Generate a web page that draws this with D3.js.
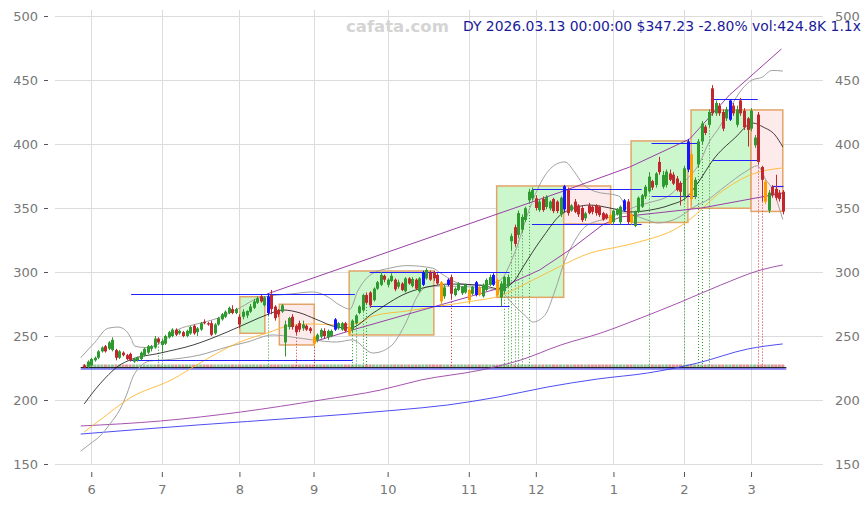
<!DOCTYPE html>
<html><head><meta charset="utf-8">
<script src="https://cdn.jsdelivr.net/npm/d3@7/dist/d3.min.js"></script>
<style>body{margin:0;background:#fff}svg{display:block}</style>
</head><body><svg id="c" width="868" height="506"></svg>
<script>
// ---------------- DATA ----------------
const monthTickIdx = [2,22,44,65,86,109,128,150,170,189];
const monthLabels  = ["6","7","8","9","10","11","12","1","2","3"];
const yTicks = [150,200,250,300,350,400,450,500];
const titleText = "DY 2026.03.13 00:00:00 $347.23 -2.80% vol:424.8K 1.1x";
const watermark = "cafata.com";

// daily candles [open, high, low, close]
const candles = [
[227,228,225,225.5],[226,231,225,230],[227,233,226,232],[231,234,230,233],[233,239,232,238],
[238,242,237,241],[242,243,237,238],[240,246,239,245],[239,249,238,247],[239,240,231,233],
[233,239,232,238],[237,238,234,235],[235,236,231,232],[236,237,230,231],[230,233,229,232],
[231,234,230,233],[232,238,231,237],[235,241,234,240],[237,243,236,242],[240,243,238,242],
[241,250,240,248],[248,249,244,245],[243,248,238,246],[244,251,243,250],[249,254,248,253],
[250,256,249,255],[255,256,250,251],[252,255,251,254],[253,254,249,250],[250,255,249,254],
[252,258,251,257],[258,259,251,252],[253,257,250,256],[255,261,254,260],[261,263,259,260],
[260,261,258,259],[260,262,250,251],[252,260,251,259],[259,265,258,264],[263,268,262,267],
[265,270,264,269],[268,273,267,272],[271,274,267,268],[268,272,267,271],[265,267,256,259],
[265,271,263,269],[266,270,264,269.5],[269,275,268,273],[272,279,271,277],[276,281,275,279.5],
[281,282,276,277],[274,281,273,280],[268,283,266,281],[282,286,267,271],[273,274,262,264],
[270,271,265,267],[269,275,268,274],[245,262,234,259],[257,265,255,264],[265,267,255,257],
[258,259,251,253],[260,262,253,255],[256,262,254,259],[258,259,254,255],[256,257,252,254],
[249.5,251,241.5,244],[247,252,245,251],[249.5,256,248,254.7],[254,256,248,250],[249,255,247,254],
[250,255,249,254],[255,264,254,263],[256,261,255,260],[255,261,254,260],[260,261,253,254],
[257,258,250,252],[255,263,253,262],[260,267,259,266],[268,274,267,273],[270,283,269,282],
[282,284,275,276],[284,285,272,274],[278,288,277,287],[287,293,286,292],[290,300,289,297.7],
[297,298,292,294],[290,295,288,294],[293,299,292,297],[294,295,285,286.5],[288.5,294,287,292],
[291,292,285,286],[285,296,284,295],[295,296,290,291],[289,296,288,294.5],[294,295,286,287],
[285,296,284,295],[290,301,289,299.5],[295,303,294,301.6],[299.5,301,293,294],[300,301,293,295],
[297.7,299,290,291],[292,293,273,277],[281,290,279,288],[290,295,289,294],[296,298,279,283],
[282,288,281,287],[286,292,285,291],[283.4,289,282,288.5],[284,291,283,290],[286,287,275,278],
[283,289,282,288.5],[282,293,281,292],[288,289,281,282],[281,291,280,290],[286,295,285,293.8],
[290,298,289,296],[290,299,289,297.7],[293.8,295,281,282],[280,293,273,291],[285,297,283,296],
[289,298,288,296],[324,330,317,328],[335,337,320,322],[329,348,327,346],[333,345,331,343],
[340.6,351,339,349.8],[356,365,354,362.7],[357.6,366,356,364],[357.6,360,348,350],[348.4,357,347,355],
[357,359,347,348.4],[350.8,360,349,358.6],[349.6,356,348,355],[357,358,346,347.6],[355,356,346,347.6],
[345,359,343,358],[349,368,347,367],[364,366,344,346],[348,353,347,352],[355,357,346,347],
[352,353,343,345],[350,352,339,340.6],[342,347,340,345.8],[352,354,345,346],[351,352,345,347],
[352,353,344,346],[351,352,343,344.5],[346,347,340,341],[345,346,341,342],[344.5,346,337,338],
[339,349,337,348],[345,350,344,349],[339,352,337,351],[348,357,347,356],[355,357,337,339],
[345,346,337,339],[336,348,335,347],[347,359,346,358],[351,361,350,360],[359,368,357,366.6],
[363,378,362,374.5],[371,372,364,366],[368,378,366,377],[386,390,376,378],[366.6,379,365,375.8],
[368,380,366,378.4],[377,380,371,372],[376,378,368,369],[373,375,363,364],[369.5,371,352,362.7],
[359,383,356,381],[380,404,378,402],[392,395,352,357],[359,374,357,372],[384,404,382,402],
[402,418,400,416],[413.5,415,407,408.6],[415,427,413,425],[443.5,446,422,424],[424,434,422,432],
[430,432,422,424],[425,427,410,412],[420,429,418,427],[419,435,418,434],[430,432,422,424],
[415,430,413,427],[434,436,422,424],[426,428,411,413],[420,421,398,411],[412,428,410,426],
[399,407,397,405],[423,425,384,386],[382,383,355,372],[370.6,372,353,355],[348,364,346,362],
[366.6,368,358,360],[365,376,356,358],[362,364,355,357],[362.7,364,345,347.23]
];
const blueIdx   = [52,71,96,103,111,116,136,153,171,183];
const orangeIdx = [65,75,101,109,112,117,149,155,172,193];

// overlay lines: [index, value]
const maShort = [[0,196.9],[3,207.8],[6,217.2],[9.7,226.6],[13,231.3],[21.6,236.7],[30.9,243],[40.5,253.1],[47,261],[51.6,266.4],[56.4,270.3],[61.2,268],[65.5,263.3],[71.7,257],[75.4,256.3],[81.9,268],[91.5,283.6],[97.2,288.3],[103.7,290.6],[112.2,289.8],[117.9,286.7],[122.1,293.8],[124.4,304],[130,327.3],[135.7,346],[143.4,352.3],[149,350],[154.7,346.9],[160.4,348.4],[166,352.3],[170.8,358.6],[174.5,371.9],[178.2,387.5],[184.4,404.7],[189.5,416.4],[192.4,413.3],[195.8,407],[198,397.7]];
const bbUpper = [[-1,233],[3,245],[6.7,256],[9.6,257],[11.9,254],[13.3,248],[14.4,242],[17.2,241],[20,242.5],[22.9,247],[26.6,255],[31.4,259],[37.9,264],[44.1,272],[49.8,280],[59.1,283],[64.8,284.4],[68.8,281],[72.5,274],[75.3,271],[77.5,285],[80,295],[81.8,299],[86.6,303],[91.4,305],[98.8,303],[100.8,299.5],[106.5,291],[112.1,289.5],[117.8,293.5],[122,315],[126.3,350],[130.5,375],[133.9,384.4],[136.2,386],[139,378],[141,370],[144.7,363],[151.5,359.4],[154.3,349],[156,350.8],[160.8,354.7],[165.6,359.4],[168.5,366.4],[171.3,374],[174.2,384],[177,401],[180,413],[183,428],[186.5,443],[189.3,450],[192,452],[195,457.5],[198,457]];
const bbLower = [[-1,160],[1.6,165.6],[4.5,171.9],[7.3,181.3],[10.2,193],[12.1,204.7],[13.8,218],[15.8,225.8],[18.6,230.5],[22.9,231.3],[32.8,235.2],[40.5,241.4],[46.2,245.3],[53.5,250.8],[58.9,249.2],[64.8,246.9],[71.5,245.3],[76,247],[81.8,236.7],[86.6,241.4],[91.4,261.7],[94.3,280.5],[97.1,288.3],[100.8,289],[110.2,288.3],[117.8,285.2],[121.5,275],[125.4,264.8],[127.1,260.9],[130.5,266],[133.4,285.2],[136.2,308.6],[139,324.2],[141.9,335.2],[147.5,341.4],[153.2,346.1],[158.8,341.4],[162.5,338.3],[167.6,341.4],[173.3,351.6],[176.2,355.5],[181.8,367.2],[187.5,378.5],[190.8,383],[193.2,372],[195.2,364],[197,350],[198,341]];
const maMid = [[0,175],[4.5,184.4],[13,201.6],[25.2,216.4],[32.8,228.9],[44.1,245.3],[51.8,252.3],[59.1,258.6],[64.8,259.4],[71.5,258.6],[78,260.2],[81.8,265.6],[91.4,269.5],[100.8,273.4],[110.2,277.3],[117.8,281.3],[124.4,289.8],[133.9,303.1],[143.4,314.8],[152.5,320.3],[159.3,325],[167.6,333.6],[171.1,339.8],[180.1,361.7],[189.5,376.6],[198,381.3]];
const maLong = [[-1,179.7],[21.6,183.6],[44.3,190.6],[67,200],[84,207.8],[95.4,215.6],[112.4,223.4],[123.8,231.3],[135.1,243],[146.4,252.3],[157.8,264.1],[169.1,276.6],[180.4,289.8],[191.8,301.6],[198,305.5]];
const maVLong = [[-1,173.4],[32.2,180.5],[60.5,186],[88.9,192.2],[103,196.1],[117.2,202.3],[131.4,210.2],[145.5,216.4],[159.7,221.1],[173.9,228.9],[188,239.8],[198,243.8]];
const trendUpper = [[51.8,282.8],[135.9,363.3],[154.6,382],[171.6,403.9],[182.9,438.3],[197.6,474.2]];
const trendLower = [[64.8,245.3],[78,256.3],[117.8,287.5],[129.1,301.6],[138,318],[147,337],[152,343],[175,350],[198,361.7]];

// boxes: [startIdx, endIdx, top, bottom, kind]
const boxes = [
[44.1,51.2,280.7,252.1,"g"],[55.3,65.2,274.8,243,"r"],[75.1,99.1,300.8,250.8,"g"],
[116.9,135.9,367.2,280.2,"g"],[135.9,149.2,367.2,337.5,"r"],[155,171.1,402.4,338.7,"g"],
[172,189,426.6,349.8,"g"],[189,198,426.6,347.3,"r"]
];
// horizontal levels: [startIdx, endIdx, value]
const levels = [
[13.3,76.7,282.8],[13.3,76.1,231.3],[80.9,120.6,300],[80.9,120.6,273.4],
[126.9,158,364.8],[126.9,158,337.5],[160.8,174.2,400.8],[160.8,173.6,359.4],
[177.6,190.9,434.9],[178.2,190.9,387.5],[195.2,198.2,367]
];
const greenSignals = [21,22,52,76,77,79,80,119,120,121,122,123,124,126,160,170,174,175,177];
const redSignals   = [60,65,104,191,192];
const baseLevel = 225.8;

// ---------------- CHART ----------------
const svg = d3.select("#c");
const plot = {l:55, r:823, t:10, b:464};
const x = d3.scaleLinear().domain([0, candles.length-1]).range([84.2, 782.8]);
const y = d3.scaleLinear().domain([150, 500]).range([464, 16]);
const FONT = "DejaVu Sans, sans-serif";

// grid
const g = svg.append("g");
g.selectAll(".hg").data(yTicks).join("line")
  .attr("x1", plot.l).attr("x2", plot.r)
  .attr("y1", d => y(d)+0.5).attr("y2", d => y(d)+0.5)
  .attr("stroke", "#dcdcdc").attr("stroke-width", 1);
g.selectAll(".vg").data(monthTickIdx).join("line")
  .attr("x1", d => Math.round(x(d))+0.5).attr("x2", d => Math.round(x(d))+0.5)
  .attr("y1", plot.t).attr("y2", plot.b)
  .attr("stroke", "#dcdcdc").attr("stroke-width", 1);

// axes
const axL = d3.axisLeft(y).tickValues(yTicks).tickSize(4).tickPadding(6);
const gl = svg.append("g").attr("transform", `translate(${48},0)`).call(axL);
gl.select(".domain").remove();
const axR = d3.axisRight(y).tickValues(yTicks).tickSize(0).tickPadding(12);
const gr = svg.append("g").attr("transform", `translate(${823},0)`).call(axR);
gr.select(".domain").remove();
const axB = d3.axisBottom(x).tickValues(monthTickIdx).tickFormat((d,i) => monthLabels[i]).tickSize(5).tickPadding(8);
const gb = svg.append("g").attr("transform", `translate(0,${472})`).call(axB);
gb.select(".domain").remove();
[gl, gr, gb].forEach(a => {
  a.selectAll("text").attr("fill", "#777").style("font-family", FONT).style("font-size", "13px");
  a.selectAll("line").attr("stroke", "#555");
});

// watermark + title
svg.append("text").attr("x", 346).attr("y", 32).text(watermark)
  .style("font-family", FONT).style("font-weight", "bold").style("font-size", "16.5px").attr("fill", "#d4d4d4");
svg.append("text").attr("x", 463).attr("y", 31).text(titleText)
  .style("font-family", FONT).style("font-size", "13.9px").attr("fill", "#1a1a9a");

// boxes
const lay = svg.append("g");
lay.selectAll(".box").data(boxes).join("rect")
  .attr("x", d => x(d[0])).attr("width", d => x(d[1]) - x(d[0]))
  .attr("y", d => y(d[2])).attr("height", d => y(d[3]) - y(d[2]))
  .attr("fill", d => d[4] === "g" ? "#ccf7cc" : "#fdeaea")
  .attr("stroke", "#e3a468").attr("stroke-width", 1.5);

// bottom base band
const base = svg.append("g");
base.selectAll(".bb").data(candles).join("rect")
  .attr("x", (d,i) => x(i)-1.5).attr("width", 3)
  .attr("y", y(baseLevel)-2.5).attr("height", 4)
  .attr("fill", (d,i) => d[3] >= d[0] ? "#8fbf8f" : "#d98c8c").attr("opacity", 0.9);
base.append("line").attr("x1", x(-1)).attr("x2", x(candles.length)).attr("y1", y(baseLevel)+0.5).attr("y2", y(baseLevel)+0.5)
  .attr("stroke", "#222").attr("stroke-width", 1);
base.append("line").attr("x1", x(-1)).attr("x2", x(candles.length)).attr("y1", y(baseLevel)+2).attr("y2", y(baseLevel)+2)
  .attr("stroke", "#2222ee").attr("stroke-width", 1);

// signal dotted verticals
const sig = svg.append("g");
sig.selectAll(".gs").data(greenSignals).join("line")
  .attr("x1", d => Math.round(x(d))+0.5).attr("x2", d => Math.round(x(d))+0.5)
  .attr("y1", d => y(candles[d][2])).attr("y2", y(baseLevel))
  .attr("stroke", "#2e9e2e").attr("stroke-width", 1).attr("stroke-dasharray", "1,2");
sig.selectAll(".rs").data(redSignals).join("line")
  .attr("x1", d => Math.round(x(d))+0.5).attr("x2", d => Math.round(x(d))+0.5)
  .attr("y1", d => y(candles[d][2])).attr("y2", y(baseLevel))
  .attr("stroke", "#cc3333").attr("stroke-width", 1).attr("stroke-dasharray", "1,2");

// overlay lines
const line = d3.line().x(d => x(d[0])).y(d => y(d[1])).curve(d3.curveMonotoneX);
const lineL = d3.line().x(d => x(d[0])).y(d => y(d[1]));
const ov = svg.append("g");
function addLine(data, color, w, gen) {
  ov.append("path").datum(data).attr("d", gen || line).attr("fill", "none")
    .attr("stroke", color).attr("stroke-width", w);
}
addLine(maVLong, "#3a3af0", 0.9);
addLine(maLong, "#9b3fa6", 0.9);
addLine(bbUpper, "#a0a0a0", 1);
addLine(bbLower, "#a0a0a0", 1);
addLine(maMid, "#ffb732", 0.9);
addLine(trendLower, "#9b3fa6", 1, lineL);
addLine(trendUpper, "#9b3fa6", 1, lineL);

// levels
ov.selectAll(".lv").data(levels).join("line")
  .attr("x1", d => x(d[0])).attr("x2", d => x(d[1]))
  .attr("y1", d => Math.round(y(d[2]))+0.5).attr("y2", d => Math.round(y(d[2]))+0.5)
  .attr("stroke", "#2222ff").attr("stroke-width", 1.2);

// candles
const cg = svg.append("g");
function col(d, i) {
  if (blueIdx.includes(i)) return "#1515ff";
  if (orangeIdx.includes(i)) return "#ff9d00";
  return d[3] >= d[0] ? "#2f9a2f" : "#c0282d";
}
cg.selectAll(".wick").data(candles).join("line")
  .attr("x1", (d,i) => Math.round(x(i))+0.5).attr("x2", (d,i) => Math.round(x(i))+0.5)
  .attr("y1", d => y(d[1])).attr("y2", d => y(d[2]))
  .attr("stroke", col).attr("stroke-width", 1);
cg.selectAll(".body").data(candles).join("rect")
  .attr("x", (d,i) => Math.round(x(i))-1).attr("width", 3)
  .attr("y", d => y(Math.max(d[0], d[3])))
  .attr("height", d => Math.max(1, Math.abs(y(d[0]) - y(d[3]))))
  .attr("fill", col);

addLine(maShort, "#111", 0.8);
</script></body></html>
